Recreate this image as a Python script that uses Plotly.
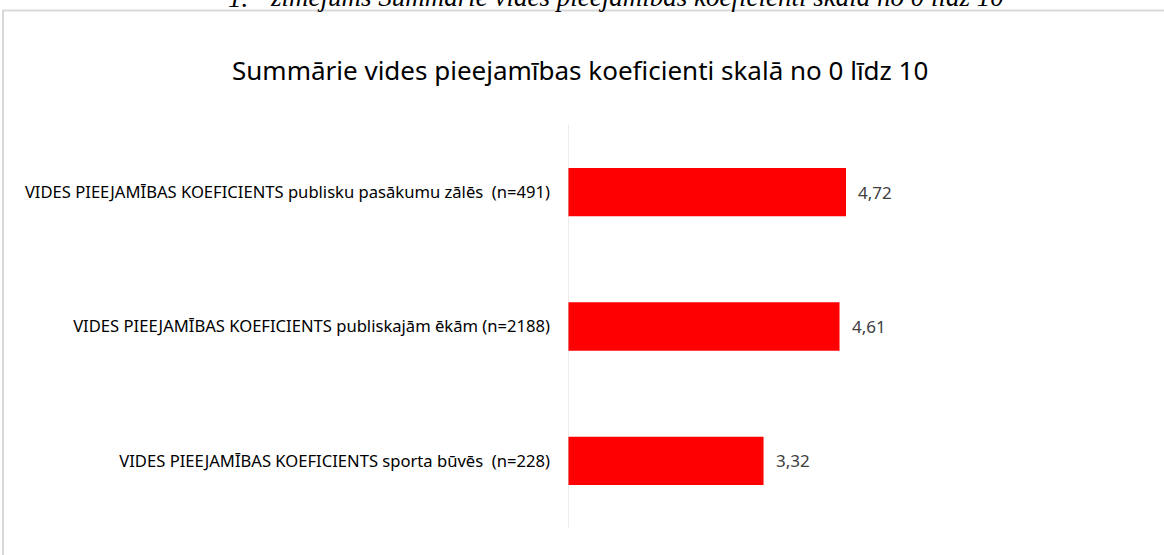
import plotly.graph_objects as go

categories = [
    "VIDES PIEEJAMĪBAS KOEFICIENTS publisku pasākumu zālēs  (n=491)",
    "VIDES PIEEJAMĪBAS KOEFICIENTS publiskajām ēkām (n=2188)",
    "VIDES PIEEJAMĪBAS KOEFICIENTS sporta būvēs  (n=228)",
]
values = [4.72, 4.61, 3.32]
value_labels = [f"{v:.2f}".replace(".", ",") for v in values]
title_text = "Summārie vides pieejamības koeficienti skalā no 0 līdz 10"
caption_num = "1."
caption_text = "zīmējums Summārie vides pieejamības koeficienti skalā no 0 līdz 10"

W, H = 1164, 555
L, R, T, B = 568, 7, 125, 27
PW, PH = W - L - R, H - T - B

def px_x(p):
    return (p - L) / PW

def px_y(p):
    return 1 + (T - p) / PH

fig = go.Figure(
    go.Bar(
        x=values,
        y=categories,
        orientation="h",
        marker=dict(color="#ff0000", line=dict(width=0)),
        width=0.36,
        hoverinfo="skip",
    )
)

annotations = []
for v, c, t in zip(values, categories, value_labels):
    annotations.append(dict(
        x=v, y=c, xref="x", yref="y", text=t, showarrow=False,
        xanchor="left", yanchor="middle", xshift=10,
        font=dict(family="Noto Sans", size=17, color="#404040"),
    ))

annotations.append(dict(
    x=px_x(226), y=px_y(14.5), xref="paper", yref="paper", text=f"<i>{caption_num}</i>",
    showarrow=False, xanchor="left", yanchor="bottom",
    font=dict(family="Liberation Serif", size=27, color="#000000"),
))
annotations.append(dict(
    x=px_x(268), y=px_y(14.5), xref="paper", yref="paper", text=f"<i>{caption_text}</i>",
    showarrow=False, xanchor="left", yanchor="bottom",
    font=dict(family="Liberation Serif", size=27, color="#000000"),
))
annotations.append(dict(
    x=px_x(580), y=px_y(70), xref="paper", yref="paper", text=title_text,
    showarrow=False, xanchor="center", yanchor="middle",
    font=dict(family="Noto Sans", size=26, color="#000000"),
))

fig.update_layout(
    width=W, height=H,
    margin=dict(l=L, r=R, t=T, b=B, pad=0),
    paper_bgcolor="white", plot_bgcolor="white",
    showlegend=False,
    annotations=annotations,
    shapes=[dict(
        type="rect", xref="paper", yref="paper",
        x0=px_x(3), x1=px_x(1175), y0=px_y(565), y1=px_y(10.5),
        line=dict(color="#d9d9d9", width=2), fillcolor="rgba(0,0,0,0)", layer="below",
    )],
    xaxis=dict(range=[0, 10], visible=False, fixedrange=True),
    yaxis=dict(
        autorange="reversed", showgrid=False, zeroline=False,
        showline=False, ticks="", ticklabelstandoff=17,
        tickfont=dict(family="Noto Sans", size=16.6, color="#000000"),
        fixedrange=True,
    ),
)
fig.add_shape(type="line", xref="x", yref="paper", x0=0, x1=0, y0=0, y1=1,
              line=dict(color="#d9d9d9", width=1))

fig.write_html("out.html", config={"displayModeBar": False},
               post_script="document.body.style.margin='0';document.body.style.overflow='hidden';")
